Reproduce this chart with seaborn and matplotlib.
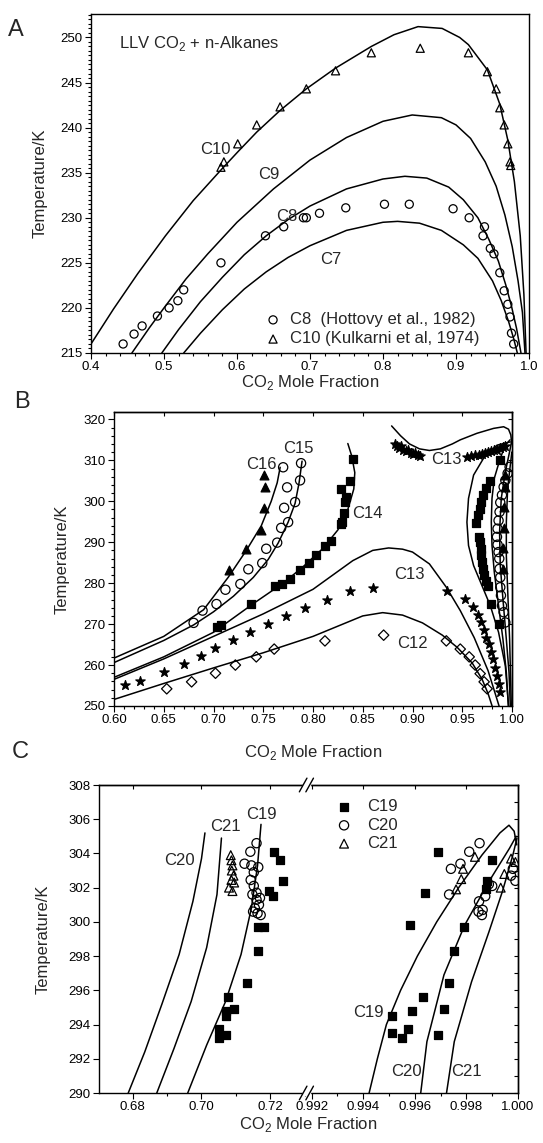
import matplotlib
matplotlib.use('Agg')
import matplotlib.pyplot as plt
import seaborn as sns
from matplotlib.ticker import MultipleLocator, FormatStrFormatter

sns.set_style('ticks')
plt.rcParams['font.family'] = ['Liberation Sans', 'DejaVu Sans']
plt.rcParams['mathtext.fontset'] = 'custom'
plt.rcParams['mathtext.rm'] = 'Liberation Sans'
plt.rcParams['axes.linewidth'] = 1.0
plt.rcParams['axes.edgecolor'] = 'black'
plt.rcParams['xtick.color'] = 'black'
plt.rcParams['ytick.color'] = 'black'

# ---------------- panel A: LLV CO2 + C7..C10 ----------------
a_c10_x = [0.578, 0.582, 0.601, 0.627, 0.659, 0.695, 0.735, 0.784, 0.851, 0.917,
           0.943, 0.955, 0.960, 0.966, 0.971, 0.974, 0.975]
a_c10_t = [235.6, 236.2, 238.2, 240.3, 242.3, 244.3, 246.3, 248.3, 248.8, 248.3,
           246.2, 244.3, 242.2, 240.3, 238.2, 236.2, 235.8]
a_c8_x = [0.444, 0.459, 0.470, 0.491, 0.507, 0.519, 0.527, 0.578, 0.639, 0.664,
          0.691, 0.695, 0.713, 0.749, 0.802, 0.836, 0.896, 0.918, 0.939, 0.937,
          0.947, 0.952, 0.960, 0.966, 0.971, 0.974, 0.976, 0.979]
a_c8_t = [216.0, 217.1, 218.0, 219.1, 220.0, 220.8, 222.0, 225.0, 228.0, 229.0,
          230.0, 230.0, 230.5, 231.1, 231.5, 231.5, 231.0, 230.0, 229.0, 228.0,
          226.6, 226.0, 223.9, 221.9, 220.4, 219.0, 217.2, 216.0]

a_model = {
    'C10': ([0.400, 0.431, 0.464, 0.502, 0.540, 0.578, 0.601, 0.627, 0.659, 0.695, 0.735, 0.784,
             0.815, 0.848, 0.881, 0.905, 0.917, 0.943, 0.960, 0.971, 0.980, 0.988, 0.993, 0.996],
            [216.0, 219.9, 223.8, 228.0, 231.9, 235.3, 237.3, 239.5, 241.9, 244.3, 246.6, 249.0,
             250.3, 251.2, 251.0, 250.0, 249.2, 246.4, 242.6, 238.6, 234.0, 228.0, 221.5, 215.0]),
    'C9': ([0.456, 0.48, 0.50, 0.53, 0.56, 0.60, 0.65, 0.70, 0.75, 0.80, 0.84, 0.88, 0.90,
            0.92, 0.94, 0.955, 0.967, 0.977, 0.985, 0.991, 0.9945],
           [215.0, 217.8, 220.0, 223.2, 226.0, 229.5, 233.2, 236.4, 238.9, 240.7, 241.4, 241.1, 240.3,
            238.8, 236.2, 233.5, 230.3, 226.8, 223.0, 219.5, 215.0]),
    'C8': ([0.497, 0.52, 0.55, 0.58, 0.61, 0.64, 0.67, 0.70, 0.75, 0.80, 0.83, 0.86, 0.89,
            0.91, 0.93, 0.945, 0.958, 0.968, 0.976, 0.983, 0.989],
           [215.0, 217.6, 220.7, 223.4, 225.9, 228.0, 229.8, 231.3, 233.2, 234.3, 234.6, 234.4, 233.4,
            232.0, 230.0, 227.6, 225.2, 222.6, 220.2, 217.7, 215.0]),
    'C7': ([0.527, 0.55, 0.58, 0.61, 0.64, 0.67, 0.70, 0.75, 0.80, 0.82, 0.85, 0.88, 0.91,
            0.93, 0.95, 0.962, 0.972, 0.979, 0.984],
           [215.0, 217.2, 219.8, 222.1, 224.0, 225.6, 226.9, 228.6, 229.5, 229.6, 229.4, 228.6, 227.0,
            225.5, 223.0, 220.8, 218.5, 216.6, 215.0]),
}
a_labels = [('C10', 0.571, 237.6), ('C9', 0.644, 234.8), ('C8', 0.668, 230.1), ('C7', 0.729, 225.4)]

# ---------------- panel B: C12..C16 ----------------
b_c16_x = [0.716, 0.733, 0.748, 0.751, 0.752, 0.751,
           0.9912, 0.9912, 0.9916, 0.9916, 0.9925, 0.9925]
b_c16_t = [283.3, 288.4, 293.1, 298.4, 303.4, 306.4,
           283.5, 288.6, 293.5, 298.6, 303.5, 306.5]
b_c15_x = [0.680, 0.689, 0.703, 0.712, 0.727, 0.735, 0.749, 0.753, 0.764, 0.768, 0.775, 0.771,
           0.782, 0.774, 0.787, 0.770, 0.788,
           0.9976, 0.9956, 0.9933, 0.9916, 0.9899, 0.9882, 0.9875, 0.9865, 0.9855, 0.9849,
           0.9855, 0.9865, 0.9872, 0.9875, 0.9882, 0.9882, 0.9889, 0.9899, 0.9916, 0.9933]
b_c15_t = [270.3, 273.3, 274.9, 278.4, 279.8, 283.4, 284.9, 288.4, 289.9, 293.5, 294.9, 298.4,
           299.8, 303.4, 305.1, 308.3, 309.3,
           308.4, 306.8, 305.1, 303.5, 301.5, 299.7, 297.4, 295.3, 293.3, 291.3,
           289.4, 287.6, 286.0, 283.5, 281.4, 279.0, 277.0, 274.5, 272.9, 270.4]
b_c14_x = [0.704, 0.708, 0.738, 0.762, 0.769, 0.777, 0.787, 0.796, 0.803, 0.812, 0.818, 0.828,
           0.829, 0.831, 0.832, 0.833, 0.828, 0.837, 0.840,
           0.9882, 0.9782, 0.9741, 0.9708, 0.9691, 0.9674, 0.9654, 0.9641, 0.9664, 0.9674,
           0.9688, 0.9691, 0.9698, 0.9708, 0.9721, 0.9741, 0.9755, 0.9789, 0.9865]
b_c14_t = [269.2, 269.9, 274.9, 279.2, 279.8, 281.0, 283.3, 284.9, 286.9, 289.1, 290.4, 294.4,
           294.9, 297.2, 299.8, 301.1, 303.1, 305.0, 310.3,
           310.0, 304.9, 303.3, 301.5, 299.8, 298.0, 296.6, 294.8, 291.3, 290.0,
           288.4, 286.8, 285.1, 283.5, 281.9, 280.6, 279.4, 274.9, 270.0]
b_c13_x = [0.611, 0.626, 0.650, 0.670, 0.687, 0.702, 0.720, 0.737, 0.755, 0.773, 0.792, 0.814,
           0.837, 0.860,
           0.9346, 0.953, 0.9608, 0.9654, 0.9688, 0.9714, 0.9741, 0.9765, 0.9789, 0.9809,
           0.9832, 0.9849, 0.9865, 0.9875,
           0.882, 0.884, 0.886, 0.888, 0.890, 0.893, 0.895, 0.898, 0.901, 0.903, 0.906, 0.908,
           0.955, 0.959, 0.963, 0.967, 0.970, 0.973, 0.976, 0.979, 0.982, 0.985, 0.988, 0.991,
           0.9933]
b_c13_t = [255.1, 256.1, 258.2, 260.2, 262.1, 264.1, 266.1, 268.1, 270.0, 272.1, 273.9, 275.9,
           278.0, 278.8,
           278.2, 276.1, 274.1, 272.2, 270.4, 268.6, 266.7, 265.1, 263.1, 261.4,
           259.4, 257.4, 255.3, 253.3,
           314.0, 313.4, 313.0, 313.5, 312.6, 312.2, 312.6, 311.8, 311.5, 311.9, 311.2, 311.0,
           310.9, 311.0, 311.2, 311.4, 311.6, 311.8, 312.0, 312.2, 312.4, 312.6, 312.9, 313.2,
           313.5]
b_c12_x = [0.653, 0.678, 0.702, 0.722, 0.743, 0.761, 0.812, 0.871,
           0.934, 0.948, 0.957, 0.963, 0.968, 0.972, 0.975]
b_c12_t = [254.2, 255.9, 258.0, 260.0, 262.0, 263.9, 265.9, 267.3,
           265.9, 263.9, 262.0, 260.0, 257.9, 255.9, 254.2]

b_model = [
    # C12
    ([0.6, 0.65, 0.7, 0.75, 0.8, 0.83, 0.85, 0.87, 0.89, 0.91, 0.93, 0.945, 0.96, 0.97, 0.976, 0.98],
     [251.6, 255.5, 259.3, 263.0, 267.0, 270.0, 272.0, 272.8, 272.2, 270.3, 267.3, 264.3, 260.5, 256.5, 253.0, 250.0]),
    # C13 (lower)
    ([0.6, 0.65, 0.7, 0.75, 0.8, 0.84, 0.86, 0.876, 0.89, 0.9, 0.917, 0.934, 0.948, 0.962, 0.976, 0.987],
     [256.5, 261.5, 267.0, 272.5, 278.5, 285.5, 288.0, 288.6, 288.3, 287.6, 284.7, 279.0, 273.3, 266.7, 258.6, 250.0]),
    # C14 (x1 branch)
    ([0.6, 0.65, 0.7, 0.74, 0.77, 0.79, 0.81, 0.825, 0.835, 0.841, 0.842, 0.839, 0.835],
     [257.0, 262.0, 268.0, 275.0, 280.0, 284.0, 288.5, 293.0, 298.0, 303.0, 307.0, 311.0, 314.1]),
    # C15 (x1 branch)
    ([0.6, 0.65, 0.68, 0.7, 0.72, 0.74, 0.755, 0.765, 0.775, 0.782, 0.786, 0.789],
     [260.6, 266.0, 269.8, 273.0, 276.8, 281.4, 285.8, 289.8, 294.9, 299.5, 304.5, 309.8]),
    # C16 (x1 branch)
    ([0.6, 0.65, 0.69, 0.715, 0.733, 0.748, 0.758, 0.764, 0.767],
     [261.7, 267.0, 273.5, 281.5, 288.0, 294.0, 300.0, 304.5, 308.3]),
    # C13 (upper)
    ([0.879, 0.888, 0.897, 0.907, 0.917, 0.928, 0.940, 0.948, 0.9648, 0.9815, 0.9916, 0.9965,
      0.9988, 0.9998],
     [318.4, 316.0, 314.0, 312.8, 312.4, 312.8, 314.0, 315.0, 316.6, 317.8, 318.2, 317.6,
      316.2, 314.0]),
    # CO2-rich branches
    ([0.9983, 0.9849, 0.9714, 0.9614, 0.9563, 0.9547, 0.9563, 0.9614, 0.9698, 0.9782, 0.9865,
      0.9933, 0.9966],
     [314.5, 313.7, 310.5, 306.4, 300.7, 294.9, 289.2, 284.3, 279.4, 274.5, 268.0, 259.8, 250.0]),
    ([0.9980, 0.9933, 0.9882, 0.9822, 0.9799, 0.9792, 0.9799, 0.9822, 0.9865, 0.9909, 0.9943, 0.9963],
     [315.0, 313.7, 310.5, 305.6, 300.7, 294.9, 289.2, 282.7, 274.5, 266.3, 258.2, 250.0]),
    ([0.9995, 0.9976, 0.9933, 0.9892, 0.9875, 0.9882, 0.9909, 0.9943, 0.9970, 0.9983],
     [314.5, 312.1, 307.2, 300.7, 292.5, 284.3, 276.1, 266.3, 258.2, 250.0]),
    ([0.9998, 0.9956, 0.9943, 0.9943, 0.9956, 0.9976, 0.9993],
     [312.0, 303.1, 294.9, 286.8, 278.6, 266.3, 250.0]),
]
b_labels = [('C15', 0.7855, 312.9), ('C16', 0.7483, 309.1), ('C14', 0.855, 297.1),
            ('C13', 0.934, 310.2), ('C13', 0.897, 282.1), ('C12', 0.900, 265.3)]

# ---------------- panel C: C19..C21 (broken axis) ----------------
c_c19_x = [0.7050, 0.7052, 0.7070, 0.7070, 0.7078, 0.7095, 0.7072, 0.7132, 0.7165, 0.7165,
           0.7183, 0.7195, 0.7207, 0.7210, 0.7228, 0.7238,
           0.99691, 0.99640, 0.99580, 0.99511, 0.99511, 0.99551, 0.99573, 0.99589, 0.99633,
           0.99689, 0.99713, 0.99731, 0.99751, 0.99789, 0.99880, 0.99900, 0.99876]
c_c19_t = [293.75, 293.2, 294.5, 294.8, 295.6, 294.9, 293.4, 296.4, 298.3, 299.7,
           299.7, 301.8, 301.5, 304.1, 303.6, 302.4,
           304.1, 301.7, 299.8, 294.5, 293.5, 293.2, 293.75, 294.8, 295.6,
           293.4, 294.9, 296.4, 298.3, 299.7, 302.4, 303.6, 301.9]
c_c20_x = [0.7125, 0.7142, 0.7160, 0.7145, 0.7152, 0.7165, 0.7143, 0.7152, 0.7148, 0.7160,
           0.7170, 0.7155, 0.7163, 0.7172, 0.7150, 0.7167, 0.7160,
           0.99740, 0.99733, 0.99777, 0.99811, 0.99851, 0.99849, 0.99847, 0.99860, 0.99863,
           0.99873, 0.99887, 0.99900, 0.99973, 0.99980, 0.99990]
c_c20_t = [303.4, 304.1, 304.6, 303.3, 302.9, 303.2, 302.45, 302.1, 301.6, 301.3,
           301.4, 300.8, 300.5, 300.4, 300.6, 301.0, 301.7,
           303.1, 301.6, 303.4, 304.1, 304.6, 301.2, 300.6, 300.4, 300.7,
           301.5, 302.2, 302.1, 302.7, 303.1, 302.4]
c_c21_x = [0.7085, 0.7087, 0.7090, 0.7088, 0.7093, 0.7087, 0.7095, 0.7080, 0.7090,
           0.99760, 0.99780, 0.99787, 0.99833, 0.99933, 0.99947, 0.99973, 0.99990]
c_c21_t = [303.9, 303.6, 303.3, 303.0, 302.7, 302.45, 302.3, 302.0, 301.8,
           301.9, 302.5, 303.1, 303.8, 302.0, 302.8, 303.7, 303.5]

c_left_model = [
    ([0.6787, 0.6835, 0.6885, 0.6935, 0.6975, 0.7000, 0.7010],
     [290.0, 292.4, 295.2, 298.1, 301.2, 303.7, 305.2]),
    ([0.6870, 0.6920, 0.6970, 0.7015, 0.7045, 0.7058],
     [290.0, 292.6, 295.35, 298.5, 301.6, 304.9]),
    ([0.6960, 0.7015, 0.7070, 0.7115, 0.7145, 0.7163, 0.7173],
     [290.0, 292.8, 295.35, 298.1, 300.8, 303.3, 305.7]),
]
c_right_model = [
    ([0.99423, 0.99455, 0.99490, 0.99545, 0.99610, 0.99685, 0.99770, 0.99860, 0.99930, 0.99965,
      0.99985, 0.99995],
     [290.0, 292.0, 294.0, 296.0, 298.0, 300.0, 302.0, 303.9, 305.2, 305.65, 305.3, 304.5]),
    ([0.99623, 0.99647, 0.99713, 0.99793, 0.99887, 0.99967, 0.99993],
     [290.0, 293.0, 296.9, 299.8, 302.35, 304.3, 305.0]),
    ([0.99723, 0.99753, 0.99820, 0.99887, 0.99940, 0.99980, 0.99996],
     [290.0, 293.0, 296.5, 299.4, 301.8, 303.9, 304.9]),
]
c_left_labels = [('C20', 0.6935, 303.6), ('C21', 0.7070, 305.6), ('C19', 0.7175, 306.25)]
c_right_labels = [('C19', 0.99420, 294.7), ('C20', 0.99567, 291.26), ('C21', 0.99800, 291.26)]

W, H = 543, 1143
fig = plt.figure(figsize=(W / 100, H / 100), dpi=100)


def box(l, t, r, b):
    return [l / W, 1 - b / H, (r - l) / W, (b - t) / H]


def curve(ax, xs, ys):
    sns.lineplot(x=xs, y=ys, ax=ax, sort=False, estimator=None, color='black', lw=1.1)


def pts(ax, xs, ys, marker, s, filled=False, label=None):
    sns.scatterplot(x=xs, y=ys, ax=ax, marker=marker, s=s,
                    facecolor='black' if filled else 'none', edgecolor='black',
                    linewidth=0.9, label=label, zorder=3)


TICK = 9.5
LAB = 12

# ---- A ----
axA = fig.add_axes(box(91, 14, 529, 353))
for name, (xs, ys) in a_model.items():
    curve(axA, xs, ys)
pts(axA, a_c8_x, a_c8_t, 'o', 34, label='C8  (Hottovy et al., 1982)')
pts(axA, a_c10_x, a_c10_t, '^', 34, label='C10 (Kulkarni et al, 1974)')
for txt, x, y in a_labels:
    axA.text(x, y, txt, ha='center', va='center', fontsize=LAB)
axA.text(0.438, 249.3, 'LLV CO$_2$ + n-Alkanes', ha='left', va='center', fontsize=LAB)
axA.set_xlim(0.4, 1.0)
axA.set_ylim(215, 252.6)
axA.xaxis.set_major_locator(MultipleLocator(0.1))
axA.xaxis.set_minor_locator(MultipleLocator(0.02))
axA.yaxis.set_major_locator(MultipleLocator(5))
axA.yaxis.set_minor_locator(MultipleLocator(0.5))
axA.tick_params(which='both', direction='out', labelsize=TICK, length=4, width=0.8, pad=2)
axA.tick_params(which='minor', length=2)
axA.set_xlabel('CO$_2$ Mole Fraction', fontsize=LAB, labelpad=0)
axA.set_ylabel('Temperature/K', fontsize=LAB, labelpad=9)
axA.legend(loc='lower left', bbox_to_anchor=(0.37, -0.015), frameon=False, fontsize=LAB,
           handletextpad=0.5, borderaxespad=0.3, labelspacing=0.25, handlelength=1.0)

# ---- B ----
axB = fig.add_axes(box(114, 412, 512, 706))
for xs, ys in b_model:
    curve(axB, xs, ys)
pts(axB, b_c12_x, b_c12_t, 'D', 28)
pts(axB, b_c13_x, b_c13_t, '*', 50, filled=True)
pts(axB, b_c14_x, b_c14_t, 's', 32, filled=True)
pts(axB, b_c15_x, b_c15_t, 'o', 44)
pts(axB, b_c16_x, b_c16_t, '^', 40, filled=True)
for txt, x, y in b_labels:
    axB.text(x, y, txt, ha='center', va='center', fontsize=LAB)
axB.set_xlim(0.6, 1.0)
axB.set_ylim(250, 321.8)
axB.xaxis.set_major_locator(MultipleLocator(0.05))
axB.xaxis.set_minor_locator(MultipleLocator(0.01))
axB.yaxis.set_major_locator(MultipleLocator(10))
axB.yaxis.set_minor_locator(MultipleLocator(2))
axB.xaxis.set_major_formatter(FormatStrFormatter('%.2f'))
axB.tick_params(which='both', direction='out', labelsize=TICK, length=4, width=0.8, pad=2)
axB.tick_params(which='minor', length=2)
for sec in (axB.secondary_xaxis('top'), axB.secondary_yaxis('right')):
    sec.tick_params(which='both', direction='in', length=3, width=0.8,
                    labeltop=False, labelright=False)
    sec.tick_params(which='minor', length=2)
axB.set_xlabel('CO$_2$ Mole Fraction', fontsize=LAB, labelpad=12)
axB.set_ylabel('Temperature/K', fontsize=LAB, labelpad=10)

# ---- C ----
brk = 99 + 0.495 * (518 - 99)
axCL = fig.add_axes(box(99, 785, brk, 1093))
axCR = fig.add_axes(box(brk, 785, 518, 1093))
for xs, ys in c_left_model:
    curve(axCL, xs, ys)
for xs, ys in c_right_model:
    curve(axCR, xs, ys)
for ax in (axCL, axCR):
    lab = ax is axCL
    pts(ax, c_c19_x, c_c19_t, 's', 32, filled=True, label='C19' if lab else None)
    pts(ax, c_c20_x, c_c20_t, 'o', 44, label='C20' if lab else None)
    pts(ax, c_c21_x, c_c21_t, '^', 40, label='C21' if lab else None)
    ax.set_ylim(290, 308)
    ax.tick_params(which='both', direction='out', labelsize=TICK, length=4, width=0.8, pad=2)
    ax.tick_params(which='minor', length=2)
hs, ls = axCL.get_legend_handles_labels()
if axCL.get_legend() is not None:
    axCL.get_legend().remove()
for txt, x, y in c_left_labels:
    axCL.text(x, y, txt, ha='center', va='center', fontsize=LAB)
for txt, x, y in c_right_labels:
    axCR.text(x, y, txt, ha='center', va='center', fontsize=LAB)
axCL.set_xlim(0.6702, 0.7305)
axCR.set_xlim(0.9918, 1.0)
axCL.xaxis.set_major_locator(MultipleLocator(0.02))
axCL.xaxis.set_minor_locator(MultipleLocator(0.01))
axCR.xaxis.set_major_locator(MultipleLocator(0.002))
axCR.xaxis.set_minor_locator(MultipleLocator(0.001))
axCR.xaxis.set_major_formatter(FormatStrFormatter('%.3f'))
axCL.yaxis.set_major_locator(MultipleLocator(2))
axCL.yaxis.set_minor_locator(MultipleLocator(1))
axCL.spines['right'].set_visible(False)
axCR.spines['left'].set_visible(False)
axCR.tick_params(axis='y', which='both', left=False, labelleft=False)
axCL.tick_params(axis='y', which='minor', left=False)
sec = axCR.secondary_yaxis('right')
sec.yaxis.set_major_locator(MultipleLocator(1))
sec.tick_params(direction='in', length=3, width=0.8, labelright=False)
for ax in (axCL, axCR):
    sx = ax.secondary_xaxis('top')
    sx.tick_params(which='both', direction='in', length=3, width=0.8, labeltop=False)
    sx.tick_params(which='minor', length=2)
axCL.set_ylabel('Temperature/K', fontsize=LAB, labelpad=13)
fig.text((99 + 518) / 2 / W, 1 - 1124 / H, 'CO$_2$ Mole Fraction', ha='center', va='center',
         fontsize=LAB)
axCR.legend(hs, ls, loc='upper left', bbox_to_anchor=(0.107, 0.975), frameon=False,
            fontsize=LAB, handletextpad=0.9, labelspacing=0.2, handlelength=1.0,
            borderaxespad=0.0)
# break marks
bx = brk / W
for yy in (1 - 785 / H, 1 - 1093 / H):
    fig.patches.append(plt.Rectangle((bx - 0.006, yy - 0.002), 0.012, 0.004,
                                     transform=fig.transFigure, color='white', zorder=5))
    for dx in (-0.006, 0.006):
        fig.lines.append(plt.Line2D([bx + dx - 0.007, bx + dx + 0.007], [yy - 0.006, yy + 0.006],
                                    transform=fig.transFigure, color='black', lw=1.0, zorder=6))

fig.text(16 / W, 1 - 30 / H, 'A', fontsize=17, ha='center', va='center')
fig.text(22 / W, 1 - 402 / H, 'B', fontsize=17, ha='center', va='center')
fig.text(20 / W, 1 - 752 / H, 'C', fontsize=17, ha='center', va='center')

fig.savefig('out.png', dpi=100)
